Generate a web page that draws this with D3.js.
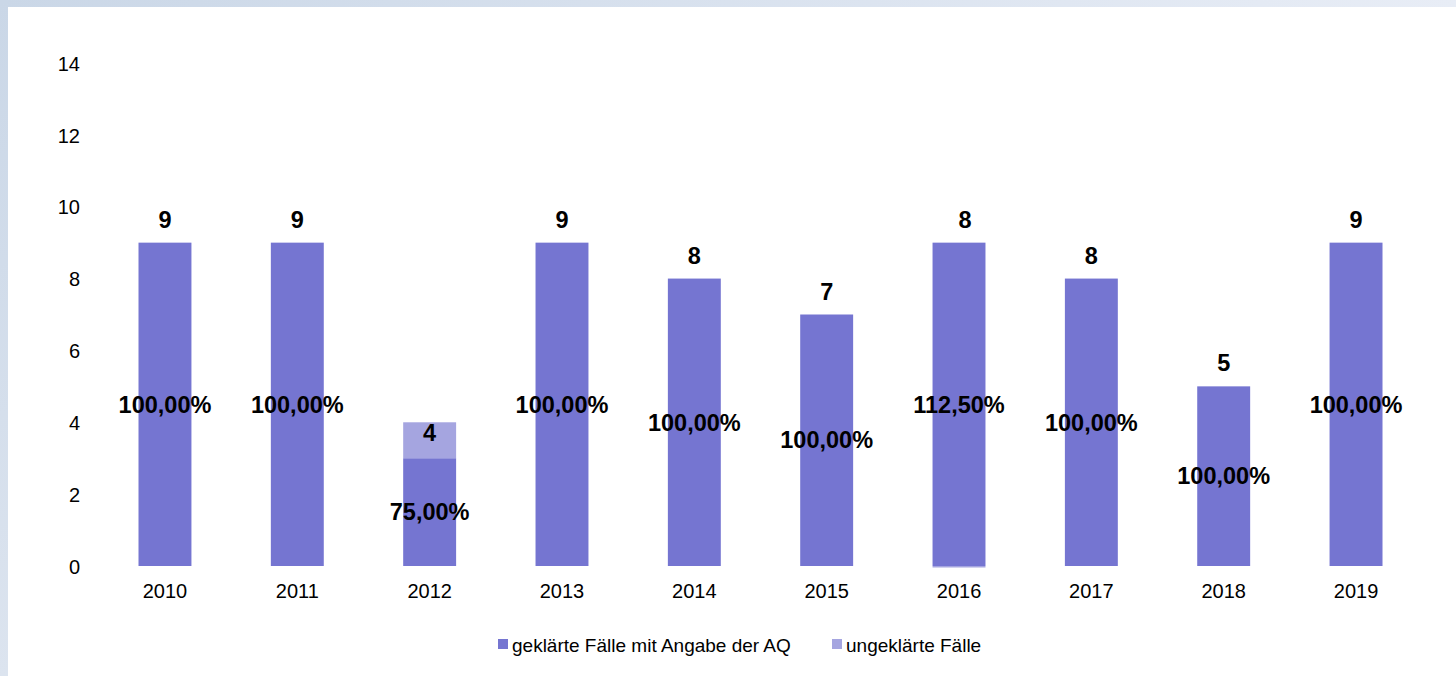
<!DOCTYPE html>
<html>
<head>
<meta charset="utf-8">
<script src="https://cdn.jsdelivr.net/npm/d3@7"></script>
<style>
  html, body { margin: 0; padding: 0; background: #fff; }
  svg { display: block; font-family: Arial, "Liberation Sans", sans-serif; }
</style>
</head>
<body>
<svg id="chart" width="1456" height="676"></svg>
<script>
// ---- data ----
const years = ["2010","2011","2012","2013","2014","2015","2016","2017","2018","2019"];
const resolved = [9, 9, 3, 9, 8, 7, 9, 8, 5, 9];        // geklärte Fälle mit Angabe der AQ
const unresolved = [0, 0, 1, 0, 0, 0, -1, 0, 0, 0];    // ungeklärte Fälle
const yTicks = [0, 2, 4, 6, 8, 10, 12, 14];
const seriesNames = ["geklärte Fälle mit Angabe der AQ", "ungeklärte Fälle"];
const colors = ["#7575d1", "#a5a5e0"];

const W = 1456, H = 676;
const svg = d3.select("#chart");

// background frame (gradient bands top and left)
const defs = svg.append("defs");
const gTop = defs.append("linearGradient").attr("id", "gTop").attr("x1", 0).attr("x2", 1).attr("y1", 0).attr("y2", 0);
gTop.append("stop").attr("offset", "0%").attr("stop-color", "#cad7e7");
gTop.append("stop").attr("offset", "100%").attr("stop-color", "#e8edf6");
const gLeft = defs.append("linearGradient").attr("id", "gLeft").attr("x1", 0).attr("x2", 0).attr("y1", 0).attr("y2", 1);
gLeft.append("stop").attr("offset", "0%").attr("stop-color", "#cad7e7");
gLeft.append("stop").attr("offset", "100%").attr("stop-color", "#dce4ef");
svg.append("rect").attr("x", 0).attr("y", 0).attr("width", W).attr("height", 7).attr("fill", "url(#gTop)");
svg.append("rect").attr("x", 0).attr("y", 0).attr("width", 8).attr("height", H).attr("fill", "url(#gLeft)");

defs.append("clipPath").attr("id", "plotClip")
  .append("rect").attr("x", 90).attr("y", 40).attr("width", 1350).attr("height", 527.5);

// scales
const x = d3.scaleBand().domain(years).range([98.8, 1422.2]).paddingInner(0.6).paddingOuter(0.3);
const y = d3.scaleLinear().domain([0, 14]).range([566, 63]);

// y axis labels
const yAxis = svg.append("g").attr("transform", "translate(80,0)")
  .call(d3.axisLeft(y).tickValues(yTicks).tickSize(0).tickPadding(0).tickFormat(d3.format("d")));
yAxis.select(".domain").remove();
yAxis.selectAll("text").attr("font-size", 20).attr("fill", "#000").attr("font-family", "Arial, 'Liberation Sans', sans-serif").attr("dy", "0.36em");

// x axis labels
const xAxis = svg.append("g").attr("transform", "translate(0,566)")
  .call(d3.axisBottom(x).tickSize(0).tickPadding(0));
xAxis.select(".domain").remove();
xAxis.selectAll("text").attr("font-size", 20).attr("fill", "#000").attr("font-family", "Arial, 'Liberation Sans', sans-serif").attr("dy", "0").attr("y", 32);

// bars
const data = years.map((yr, i) => ({ yr, r: resolved[i], u: unresolved[i], total: resolved[i] + unresolved[i] }));
const bars = svg.append("g").attr("clip-path", "url(#plotClip)");
bars.selectAll("rect.res").data(data).enter().append("rect")
  .attr("x", d => x(d.yr)).attr("width", x.bandwidth())
  .attr("y", d => y(d.r)).attr("height", d => y(0) - y(d.r))
  .attr("fill", colors[0]);
bars.selectAll("rect.unr").data(data.filter(d => d.u !== 0)).enter().append("rect")
  .attr("x", d => x(d.yr)).attr("width", x.bandwidth())
  .attr("y", d => d.u > 0 ? y(d.r + d.u) : y(0))
  .attr("height", d => d.u > 0 ? y(d.r) - y(d.r + d.u) : y(d.u) - y(0))
  .attr("fill", colors[1]);

// labels
const fmtPct = v => (v * 100).toFixed(2).replace(".", ",") + "%";
const lab = svg.append("g").attr("font-weight", "bold").attr("font-size", 23.5).attr("fill", "#000").attr("text-anchor", "middle");
// total labels
lab.selectAll("text.tot").data(data).enter().append("text")
  .attr("x", d => x(d.yr) + x.bandwidth() / 2 + (d.u < 0 ? 6 : 0))
  .attr("y", d => d.u > 0 ? y(d.total) + 19 : y(Math.max(d.r, d.total)) - 15)
  .text(d => d.total);
// percentage labels
lab.selectAll("text.pct").data(data).enter().append("text")
  .attr("x", d => x(d.yr) + x.bandwidth() / 2)
  .attr("y", d => y(d.r / 2))
  .attr("dy", "0.35em")
  .text(d => fmtPct(d.r / d.total));

// legend
const leg = svg.append("g").attr("font-size", 19).attr("fill", "#000");
const legX = [498, 832];
seriesNames.forEach((name, i) => {
  leg.append("rect").attr("x", legX[i]).attr("y", 639).attr("width", 10).attr("height", 10).attr("fill", colors[i]);
  leg.append("text").attr("x", legX[i] + 14).attr("y", 652).text(name);
});
</script>
</body>
</html>
